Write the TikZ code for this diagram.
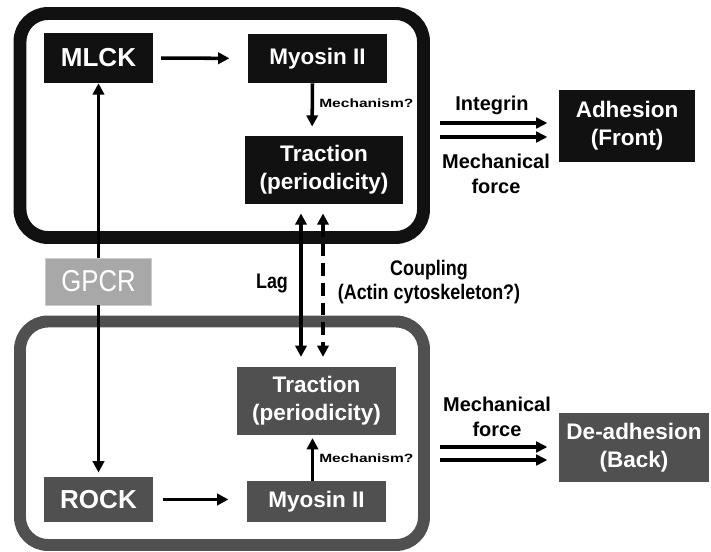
\documentclass[tikz,border=0pt]{standalone}
\usepackage{fontspec}
\setmainfont{Liberation Sans}
\newfontfamily\narrowfont[FakeStretch=0.85]{Liberation Sans}
\newfontfamily\widefont[FakeStretch=1.3]{Liberation Sans}
\usetikzlibrary{arrows.meta, positioning}
\usepackage{xcolor}
\definecolor{frontblk}{RGB}{17, 17, 17}
\definecolor{backgray}{RGB}{80, 80, 80}
\definecolor{gpcrgray}{RGB}{168, 168, 168}

\begin{document}
\begin{tikzpicture}[x=0.025cm, y=-0.025cm,
    front/.style={rectangle, fill=frontblk, text=white, inner sep=0pt, align=center, font=\bfseries\fontsize{16}{20}\selectfont},
    back/.style={front, fill=backgray},
    kinase/.style={font=\bfseries\fontsize{18.5}{22}\selectfont, minimum width=2.7cm},
    arrow/.style={-{Triangle[length=8pt,width=8pt]}, line width=2.5pt},
    twoway/.style={{Triangle[length=8pt,width=8pt]}-{Triangle[length=8pt,width=8pt]}, line width=2.5pt},
    force/.style={-{Triangle[length=8pt,width=7.5pt]}, line width=2.8pt},
    lbl/.style={font=\bfseries\fontsize{14.2}{17.8}\selectfont, align=center},
    mech/.style={font=\widefont\bfseries\fontsize{8.5}{9}\selectfont, anchor=west, inner sep=0pt},
    note/.style={font=\narrowfont\bfseries\fontsize{15}{17.5}\selectfont, align=center}
]
\useasboundingbox (0,0) rectangle (711,552);

% cell frames
\draw[frontblk, line width=9.2pt, rounded corners=0.7cm] (20,13.5) rectangle (423.5,237.5);
\draw[backgray, line width=8.5pt, rounded corners=0.7cm] (20,321.5) rectangle (424,545);

% front (top)
\node[front, kinase, minimum height=1.25cm] (mlck) at (98.5,58) {MLCK};
\node[front, minimum width=3.475cm, minimum height=1.225cm] (myoT) at (317.5,58.5) {Myosin II};
\node[front, minimum width=3.95cm, minimum height=1.7cm] (tracT) at (324,170) {Traction\\(periodicity)};
\node[front, minimum width=3.4cm, minimum height=1.8cm] (adh) at (627,126) {Adhesion\\(Front)};

% receptor
\node[rectangle, fill=gpcrgray, draw=gray!40, text=white, inner sep=0pt, minimum width=2.65cm, minimum height=1.175cm,
      font=\narrowfont\fontsize{21.5}{24}\selectfont] (gpcr) at (98.5,281.5) {GPCR};

% back (bottom)
\node[back, minimum width=3.975cm, minimum height=1.7cm] (tracB) at (316.5,401) {Traction\\(periodicity)};
\node[back, kinase, minimum height=1.125cm] (rock) at (98.5,499.5) {ROCK};
\node[back, minimum width=3.475cm, minimum height=1.025cm] (myoB) at (316.5,501.5) {Myosin II};
\node[back, minimum width=3.75cm, minimum height=1.725cm] (deadh) at (634,447.5) {De-adhesion\\(Back)};

% signalling arrows
\draw[arrow, shorten <=6pt, shorten >=13pt] (mlck) -- (myoT);
\draw[arrow, shorten >=6.5pt] ([xshift=-0.125cm]myoT.south) -- ([xshift=-0.3cm]tracT.north);
\node[mech] (mechT) at (319,103) {Mechanism?};
\draw[arrow] (gpcr.north) -- (mlck.south);
\draw[arrow, shorten >=3pt] (gpcr.south) -- (rock.north);
\draw[arrow, shorten <=7pt, shorten >=13pt] (rock.east) -- (rock.east -| myoB.west);
\draw[arrow, shorten >=2pt] ([xshift=-0.1cm]myoB.north) -- ([xshift=-0.1cm]myoB.north |- tracB.south);
\node[mech] (mechB) at (319,458) {Mechanism?};

% front-back link
\draw[twoway, shorten <=6.5pt, shorten >=7pt] ([xshift=-0.575cm]tracT.south) -- ([xshift=-0.575cm]tracT.south |- tracB.north);
\draw[twoway, dash pattern=on 9pt off 5pt, shorten <=6.5pt, shorten >=7pt] ([xshift=-0.025cm]tracT.south) -- ([xshift=-0.025cm]tracT.south |- tracB.north);
\node[note] (lag) at (272,283) {Lag};
\node[note] (coupling) at (429,282) {Coupling\\(Actin cytoskeleton?)};

% forces
\coordinate (f1) at (440,123);
\coordinate (f2) at (440,137);
\draw[force, shorten >=8pt] (f1) -- (f1 -| adh.west);
\draw[force, shorten >=8pt] (f2) -- (f2 -| adh.west);
\node[lbl] (integrin) at (492,105) {Integrin};
\node[lbl] (forceT) at (496,174) {Mechanical\\force};

\coordinate (b1) at (440,447);
\coordinate (b2) at (440,460);
\draw[force, shorten >=8pt] (b1) -- (b1 -| deadh.west);
\draw[force, shorten >=8pt] (b2) -- (b2 -| deadh.west);
\node[lbl] (forceB) at (497,417) {Mechanical\\force};
\end{tikzpicture}
\end{document}
